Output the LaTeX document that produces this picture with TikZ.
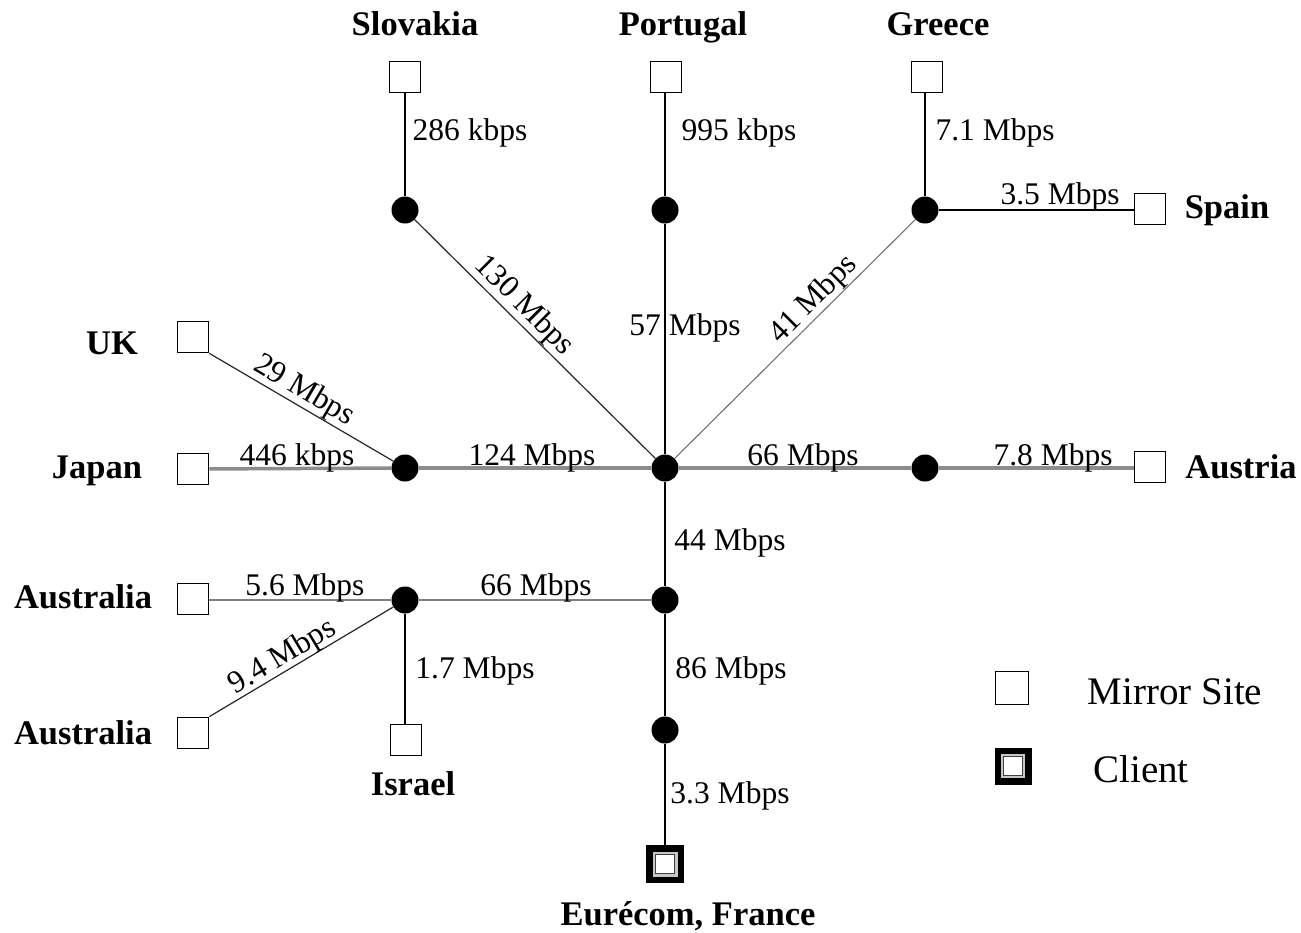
\documentclass[tikz,border=0pt]{standalone}
\usepackage{fontspec}
\setmainfont{Liberation Serif}
\usetikzlibrary{backgrounds}

\tikzset{
  mirror/.style={draw=black, line width=1.8pt, fill=white, minimum size=31pt, inner sep=0pt},
  router/.style={circle, fill=black, minimum size=27pt, inner sep=0pt},
  clientbox/.style={draw=black, line width=6.5pt, fill=black!22, minimum size=31.5pt, inner sep=0pt,
    path picture={\draw[black!75, line width=1.5pt, fill=white]
      ([shift={(-9.5pt,-9.5pt)}]path picture bounding box.center) rectangle
      ([shift={(9.5pt,9.5pt)}]path picture bounding box.center);}},
  rate/.style={font=\fontsize{31.5}{37}\selectfont, inner sep=0pt, anchor=base},
  slrate/.style={font=\fontsize{31.5}{37}\selectfont, inner sep=0pt},
  site/.style={font=\fontsize{34.5}{41}\selectfont\bfseries, inner sep=0pt, anchor=base},
  legendtxt/.style={font=\fontsize{39}{45}\selectfont, inner sep=0pt, anchor=base},
  trunk/.style={line width=2.5pt, black},
  branch/.style={line width=2pt, black},
  thinlink/.style={line width=1.2pt, black!85},
  faintlink/.style={line width=1.1pt, black!55},
  backbone/.style={line width=3.5pt, black!45},
  midgray/.style={line width=2pt, black!50},
  lightgray/.style={line width=1.5pt, black!50},
}

\begin{document}
\begin{tikzpicture}[x=1pt, y=-1pt]
\useasboundingbox (0,0) rectangle (1301,932);

% routers
\node[router] (slovr)  at (405,210) {};
\node[router] (portr)  at (665,210) {};
\node[router] (greer)  at (925,210) {};
\node[router] (japr)   at (405,468) {};
\node[router] (hub)    at (665,468) {};
\node[router] (austr)  at (925,468) {};
\node[router] (ausr)   at (405,600) {};
\node[router] (lowhub) at (665,600) {};
\node[router] (eur)    at (665,730) {};

% mirror sites
\node[mirror] (slov)  at (405,77)  {};
\node[mirror] (port)  at (666,77)  {};
\node[mirror] (gree)  at (927,77)  {};
\node[mirror] (spain) at (1150,209) {};
\node[mirror] (uk)    at (193,337) {};
\node[mirror] (japan) at (193,469) {};
\node[mirror] (aust)  at (1150,467) {};
\node[mirror] (ausa)  at (193,599) {};
\node[mirror] (ausb)  at (193,733) {};
\node[mirror] (isr)   at (406,740) {};

% client
\node[clientbox] (client) at (665,864) {};

% links
\begin{pgfonlayer}{background}
  \fill[white] (0,0) rectangle (1301,932);
  \draw[trunk] (slov) -- (slovr);
  \draw[trunk] (port.south -| portr) -- (portr);
  \draw[trunk] (gree.south -| greer) -- (greer);
  \draw[branch] (greer) -- (spain.west |- greer);
  \draw[thinlink] (slovr) -- (hub);
  \draw[trunk] (portr) -- (hub);
  \draw[faintlink] (hub) -- (greer);
  \draw[thinlink] (uk.south east) -- (japr);
  \draw[backbone] (japan) -- (japr);
  \draw[backbone] (japr) -- (hub);
  \draw[backbone] (hub) -- (austr);
  \draw[backbone] (austr) -- (aust.west |- austr);
  \draw[trunk] (hub) -- (lowhub);
  \draw[midgray] (ausr) -- (lowhub);
  \draw[lightgray] (ausa.east |- ausr) -- (ausr);
  \draw[thinlink] (ausb.north east) -- (ausr);
  \draw[trunk] (ausr) -- (isr.north -| ausr);
  \draw[trunk] (lowhub) -- (eur);
  \draw[trunk] (eur) -- (client);
\end{pgfonlayer}

% link rates
\node[rate] (r1)  at (470,140) {286 kbps};
\node[rate] (r2)  at (739,140) {995 kbps};
\node[rate] (r3)  at (995,140) {7.1 Mbps};
\node[rate] (r4)  at (1060,204) {3.5 Mbps};
\node[slrate, rotate=-45] (r5) at (524,306) {130 Mbps};
\node[rate] (r6)  at (685,335) {57 Mbps};
\node[slrate, rotate=45] (r7) at (814,300) {41 Mbps};
\node[slrate, rotate=-30.6] (r8) at (304,391) {29 Mbps};
\node[rate] (r9)  at (297,465) {446 kbps};
\node[rate] (r10) at (532,465) {124 Mbps};
\node[rate] (r11) at (803,465) {66 Mbps};
\node[rate] (r12) at (1053,465) {7.8 Mbps};
\node[rate] (r13) at (730,550) {44 Mbps};
\node[rate] (r14) at (305,595) {5.6 Mbps};
\node[rate] (r15) at (536,595) {66 Mbps};
\node[slrate, rotate=31] (r16) at (283,657) {9.4 Mbps};
\node[rate] (r17) at (475,678) {1.7 Mbps};
\node[rate] (r18) at (731,678) {86 Mbps};
\node[rate] (r19) at (730,803) {3.3 Mbps};

% site names
\node[site] (nslov)  at (415,35)  {Slovakia};
\node[site] (nport)  at (683,35)  {Portugal};
\node[site] (ngree)  at (938,35)  {Greece};
\node[site] (nspain) at (1227,218) {Spain};
\node[site] (nuk)    at (112,354) {UK};
\node[site] (njap)   at (97,478)  {Japan};
\node[site] (naust)  at (1241,478) {Austria};
\node[site] (nausa)  at (83,608)  {Australia};
\node[site] (nausb)  at (83,744)  {Australia};
\node[site] (nisr)   at (413,795) {Israel};
\node[site] (neur)   at (688,925) {Eurécom, France};

% legend
\node[mirror, minimum size=33pt] (legm) at (1012,688) {};
\node[legendtxt] (legmt) at (1175,704) {Mirror Site};
\node[clientbox, minimum size=30.5pt] (legc) at (1013,766) {};
\node[legendtxt] (legct) at (1141,782) {Client};
\end{tikzpicture}
\end{document}
